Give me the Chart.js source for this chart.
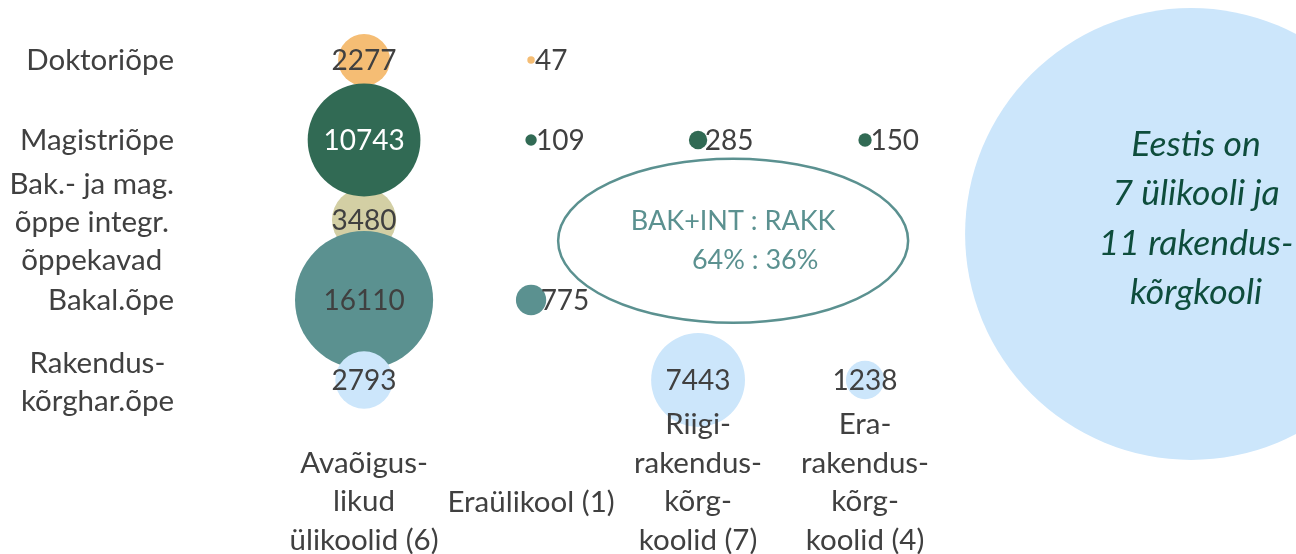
<!DOCTYPE html>
<html><head><meta charset="utf-8">
<script src="https://cdn.jsdelivr.net/npm/chart.js@4"></script>
<style>html,body{margin:0;padding:0;background:#fff;} canvas{display:block;}</style>
</head><body>
<canvas id="c" width="1296" height="554"></canvas>
<script>
// ---- data ----
const schoolTypes = [['Avaõigus-','likud','ülikoolid (6)'], ['Eraülikool (1)'], ['Riigi-','rakendus-','kõrg-','koolid (7)'], ['Era-','rakendus-','kõrg-','koolid (4)']];
const studyLevels = [['Doktoriõpe'], ['Magistriõpe'], ['Bak.- ja mag.','õppe integr.','õppekavad'], ['Bakal.õpe'], ['Rakendus-','kõrghar.õpe']];
const doktoriope = [2277, 47, null, null];
const magistriope = [10743, 109, 285, 150];
const integreeritud = [3480, null, null, null];
const bakalaureuseope = [16110, 775, null, null];
const rakenduskorgharidusope = [2793, null, 7443, 1238];
const ratioTitle = 'BAK+INT : RAKK';
const ratioValues = '64% : 36%';
const noteLines = ['Eestis on', '7 ülikooli ja', '11 rakendus-', 'kõrgkooli'];

// ---- styling ----
const FONT = 'Lato, "Open Sans", sans-serif';
const TEXT = '#404040';
const series = [
  {values: doktoriope, level: 0, color: '#f5bd74', label: TEXT, order: 4},
  {values: magistriope, level: 1, color: '#316a54', label: '#ffffff', order: 2},
  {values: integreeritud, level: 2, color: '#d3cfa4', label: TEXT, order: 3},
  {values: bakalaureuseope, level: 3, color: '#5b9190', label: TEXT, order: 1},
  {values: rakenduskorgharidusope, level: 4, color: '#cce6fb', label: TEXT, order: 0}
];
const SIZE_K = 0.544;
const yOf = lvl => studyLevels.length - lvl;

const datasets = series.map(s => ({
  label: studyLevels[s.level].join(' '),
  data: s.values.map((v, i) => v == null ? null : {x: i + 1, y: yOf(s.level), r: SIZE_K * Math.sqrt(v), v: v}).filter(p => p),
  backgroundColor: s.color,
  hoverBackgroundColor: s.color,
  borderWidth: 0,
  hoverBorderWidth: 0,
  hoverRadius: 0,
  order: s.order,
  clip: false,
  labelColor: s.label
}));

const drawPlugin = {
  id: 'draw',
  beforeDatasetsDraw(chart) {
    const {ctx, scales: {x, y}} = chart;
    ctx.save();
    // background note circle
    const cx = x.getPixelForValue(5.952), cy = y.getPixelForValue(2.825);
    const r = x.getPixelForValue(5.952 + 1.353) - cx;
    ctx.fillStyle = '#cce6fb';
    ctx.beginPath(); ctx.arc(cx, cy, r, 0, Math.PI * 2); ctx.fill();
    ctx.fillStyle = '#0e4d3c';
    ctx.font = 'italic 35.5px ' + FONT;
    ctx.textAlign = 'center'; ctx.textBaseline = 'middle';
    const tx = x.getPixelForValue(5.982);
    const lh = 49.3, top = y.getPixelForValue(3.02) - lh * (noteLines.length - 1) / 2;
    noteLines.forEach((t, i) => ctx.fillText(t, tx, top + i * lh));
    // ratio ellipse
    const ex = x.getPixelForValue(3.21), ey = y.getPixelForValue(2.74);
    ctx.strokeStyle = '#5b9190'; ctx.lineWidth = 2.5;
    ctx.beginPath(); ctx.ellipse(ex, ey, 175, 82, 0, 0, Math.PI * 2); ctx.stroke();
    ctx.fillStyle = '#5b9190';
    ctx.font = '27px ' + FONT;
    ctx.fillText(ratioTitle, ex, ey - 20);
    ctx.fillText(ratioValues, ex + 22, ey + 19);
    ctx.restore();
  },
  afterDatasetsDraw(chart) {
    const {ctx, scales: {x, y}} = chart;
    ctx.save();
    ctx.font = '28px ' + FONT;
    ctx.textBaseline = 'middle';
    // value labels
    chart.data.datasets.forEach((ds, di) => {
      const meta = chart.getDatasetMeta(di);
      meta.data.forEach((el, i) => {
        const p = ds.data[i];
        const r = p.r;
        ctx.fillStyle = ds.labelColor;
        if (r < 17) {
          ctx.textAlign = 'left';
          ctx.fillStyle = TEXT;
          ctx.fillText(String(p.v), el.x + r * 0.5 + 2, el.y + 1);
        } else {
          ctx.textAlign = 'center';
          ctx.fillText(String(p.v), el.x, el.y + 1);
        }
      });
    });
    // y-axis category labels (lines centred, block right-aligned)
    ctx.font = '29.5px ' + FONT;
    ctx.fillStyle = TEXT;
    ctx.textAlign = 'center';
    const lhY = 38;
    studyLevels.forEach((lines, lvl) => {
      const w = Math.max(...lines.map(t => ctx.measureText(t).width));
      const right = 174;
      const py = y.getPixelForValue(yOf(lvl));
      const t0 = py - lhY * (lines.length - 1) / 2 + (lines.length > 1 ? 2 : 0);
      lines.forEach((t, i) => ctx.fillText(t, right - w / 2, t0 + i * lhY));
    });
    // x-axis category labels (centred, kept inside canvas)
    const lhX = 38.5, midY = y.getPixelForValue(-0.535), maxLast = chart.height - 14;
    schoolTypes.forEach((lines, j) => {
      const px = x.getPixelForValue(j + 1);
      let t0 = midY - lhX * (lines.length - 1) / 2;
      const last = t0 + lhX * (lines.length - 1);
      if (last > maxLast) t0 -= last - maxLast;
      lines.forEach((t, i) => ctx.fillText(t, px, t0 + i * lhX));
    });
    ctx.restore();
  }
};

new Chart(document.getElementById('c'), {
  type: 'bubble',
  data: {datasets},
  options: {
    responsive: false,
    animation: false,
    events: [],
    layout: {padding: 0, autoPadding: false},
    plugins: {legend: {display: false}, tooltip: {enabled: false}},
    scales: {
      x: {type: 'linear', min: -1.18, max: -1.18 + 1296 / 167, display: false},
      y: {type: 'linear', min: -1.175, max: 5.75, display: false}
    }
  },
  plugins: [drawPlugin]
});
</script>
</body></html>
